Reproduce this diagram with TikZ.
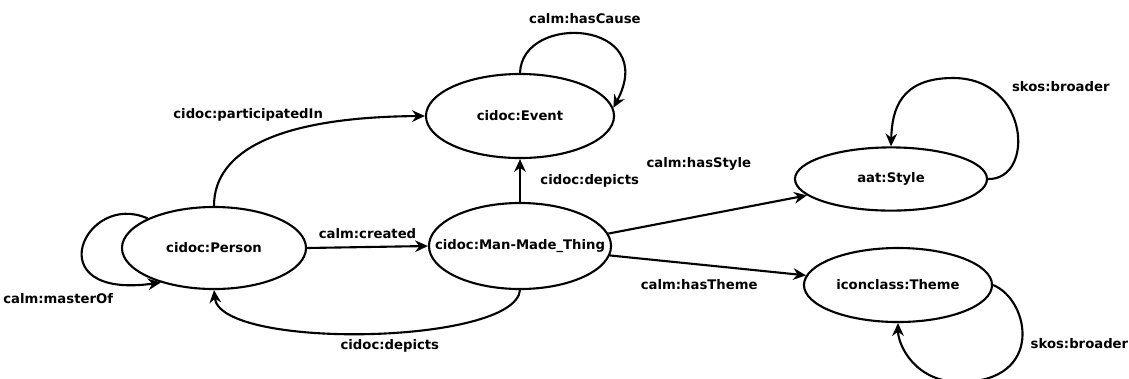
\documentclass[tikz,border=0pt]{standalone}
\usepackage{fontspec}
\setmainfont{DejaVu Sans}
\usetikzlibrary{shapes.geometric,arrows.meta}

\tikzset{
  class/.style={ellipse, draw, line width=1.5pt, inner sep=0pt, font=\bfseries\fontsize{9.4}{11}\selectfont},
  rel/.style={line width=1.5pt, -{Stealth[length=3.2mm,width=2.9mm]}},
  lbl/.style={font=\bfseries\fontsize{9.4}{11}\selectfont, inner sep=1pt}
}

\begin{document}
\begin{tikzpicture}[x=0.025cm,y=-0.025cm]

\useasboundingbox (0,0) rectangle (1129,378);

\node[class, minimum width=4.6cm, minimum height=2.05cm] (person) at (214,248) {cidoc:Person};
\node[class, minimum width=4.7cm, minimum height=2.1cm] (event) at (520,116) {cidoc:Event};
\node[class, inner xsep=-0.6cm, minimum width=4.55cm, minimum height=2.15cm] (thing) at (520,246) {cidoc:Man-Made\_Thing};
\node[class, minimum width=4.8cm, minimum height=1.58cm] (style) at (891,179) {aat:Style};
\node[class, minimum width=4.7cm, minimum height=1.85cm] (theme) at (898,285) {iconclass:Theme};

\draw[rel] (person.east) -- node[lbl, above=0.15cm] {calm:created} (thing.west);

\draw[rel] (thing.north) -- node[lbl, right=0.45cm] {cidoc:depicts} (event.south);

\draw[rel] (person.north) .. controls (214,150) and (280,117) .. node[lbl, pos=0.72, anchor=south east, xshift=0.1cm] {cidoc:participatedIn} (event.west);

\draw[rel] (thing.south) .. controls (515,345) and (220,350) .. node[lbl, pos=0.45, below=3pt] {cidoc:depicts} (person.south);

%self loops
\draw[rel] (person.156) .. controls (85,190) and (35,300) .. node[lbl, pos=0.85, anchor=north east, yshift=-0.2cm] {calm:masterOf} (person.213);

\draw[rel] (event.north) .. controls (522,12) and (660,20) .. node[lbl, pos=0.5, above=0.2cm] {calm:hasCause} (event.5);

\draw[rel] (thing.8) -- node[lbl, above=1.05cm, xshift=-0.22cm] {calm:hasStyle} (style.191);

\draw[rel] (thing.354) -- node[lbl, below=0.3cm, xshift=-0.22cm] {calm:hasTheme} (theme.174);

\draw[rel] (style.east) .. controls (1035,180) and (1030,78) .. node[lbl, pos=0.75, anchor=west, xshift=0.3cm, yshift=0.18cm] {skos:broader} (953,78)
  .. controls (900,78) and (892,110) .. (style.north);

\draw[rel] (theme.east) .. controls (1030,300) and (1045,382) .. node[lbl, pos=0.5, right=0.15cm, yshift=-0.1cm] {skos:broader} (960,382)
  .. controls (915,382) and (898,345) .. (theme.south);

\end{tikzpicture}
\end{document}
